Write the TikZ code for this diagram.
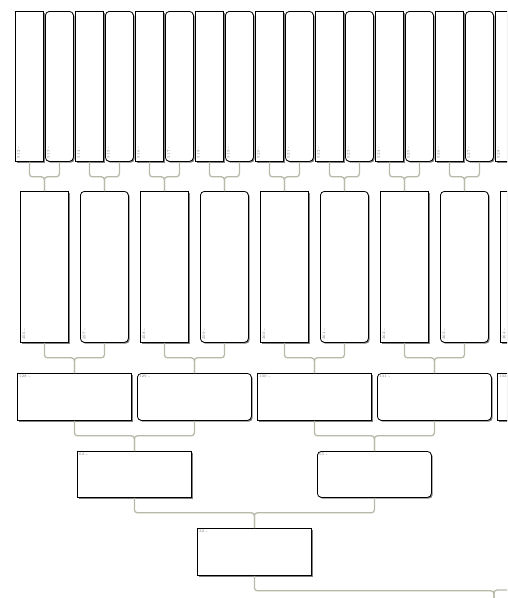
\documentclass[tikz,border=0pt]{standalone}
\usetikzlibrary{shadows}
\definecolor{connc}{RGB}{185,185,170}
\begin{document}
\begin{tikzpicture}[x=1pt,y=-1pt,
  box/.style={draw=black, line width=0.8pt, fill=white, inner sep=0pt, anchor=north west,
    drop shadow={shadow xshift=1.3pt, shadow yshift=-1.3pt, fill=black!50, opacity=1}},
  male/.style={box},
  female/.style={box, rounded corners=4pt},
  lbl/.style={text=black!55, font=\fontsize{3.8}{4.2}\selectfont, inner sep=0pt},
  conn/.style={draw=connc, line width=1.3pt, rounded corners=3pt}]
\useasboundingbox (0,0) rectangle (507,598);
\clip (0,0) rectangle (507,598);
% generation 1 (top row)
\foreach \i in {0,...,16}{
  \pgfmathtruncatemacro\n{512+\i}
  \pgfmathsetmacro\x{15+30*\i}
  \ifodd\n\def\sty{female}\else\def\sty{male}\fi
  \node[\sty, minimum width=28pt, minimum height=150pt] (n\n) at (\x,11) {};
  \node[lbl, rotate=90, anchor=north west] (t\n) at ([xshift=2pt,yshift=3.5pt]n\n.south west) {\n\ -};
}
% generation 2
\foreach \i in {0,...,8}{
  \pgfmathtruncatemacro\n{256+\i}
  \pgfmathsetmacro\x{20+60*\i}
  \ifodd\n\def\sty{female}\else\def\sty{male}\fi
  \node[\sty, minimum width=48pt, minimum height=151pt] (n\n) at (\x,191) {};
  \node[lbl, rotate=90, anchor=north west] (t\n) at ([xshift=2.5pt,yshift=3pt]n\n.south west) {\n\ -};
}
% generation 3
\foreach \i in {0,...,4}{
  \pgfmathtruncatemacro\n{128+\i}
  \pgfmathsetmacro\x{17+120*\i}
  \ifodd\n\def\sty{female}\else\def\sty{male}\fi
  \node[\sty, minimum width=114pt, minimum height=47pt] (n\n) at (\x,373) {};
  \node[lbl, anchor=north west] (t\n) at ([xshift=1.8pt,yshift=-1.8pt]n\n.north west) {\n\ -};
}
% generation 4
\node[male, minimum width=114pt, minimum height=46pt] (n64) at (77,451) {};
\node[lbl, anchor=north west] (t64) at ([xshift=1.8pt,yshift=-1.8pt]n64.north west) {64 -};
\node[female, minimum width=114pt, minimum height=46pt] (n65) at (317,451) {};
\node[lbl, anchor=north west] (t65) at ([xshift=1.8pt,yshift=-1.8pt]n65.north west) {65 -};
% generation 5
\node[male, minimum width=114pt, minimum height=47pt] (n32) at (197,528) {};
\node[lbl, anchor=north west] (t32) at ([xshift=1.8pt,yshift=-1.8pt]n32.north west) {32 -};
\coordinate (n33) at (734,575);
\coordinate (n16) at (494,606);
% connectors
\foreach \i in {0,...,7}{
  \pgfmathtruncatemacro\a{512+2*\i}
  \pgfmathtruncatemacro\b{513+2*\i}
  \pgfmathtruncatemacro\c{256+\i}
  \draw[conn] (n\a.south) -- ++(0,15) -| (n\c.north);
  \draw[conn] (n\b.south) -- ++(0,15) -| (n\c.north);
}
\draw[conn] (n528.south) -- ++(0,15) -| (n264.north);
\foreach \i in {0,...,3}{
  \pgfmathtruncatemacro\a{256+2*\i}
  \pgfmathtruncatemacro\b{257+2*\i}
  \pgfmathtruncatemacro\c{128+\i}
  \draw[conn] (n\a.south) -- ++(0,15) -| (n\c.north);
  \draw[conn] (n\b.south) -- ++(0,15) -| (n\c.north);
}
\draw[conn] (n128.south) -- ++(0,15) -| (n64.north);
\draw[conn] (n129.south) -- ++(0,15) -| (n64.north);
\draw[conn] (n130.south) -- ++(0,15) -| (n65.north);
\draw[conn] (n131.south) -- ++(0,15) -| (n65.north);
\draw[conn] (n64.south) -- ++(0,15) -| (n32.north);
\draw[conn] (n65.south) -- ++(0,15) -| (n32.north);
\draw[conn] (n32.south) -- ++(0,15) -| (n16);
\draw[conn] (n33) -- ++(0,15) -| (n16);
\end{tikzpicture}
\end{document}
